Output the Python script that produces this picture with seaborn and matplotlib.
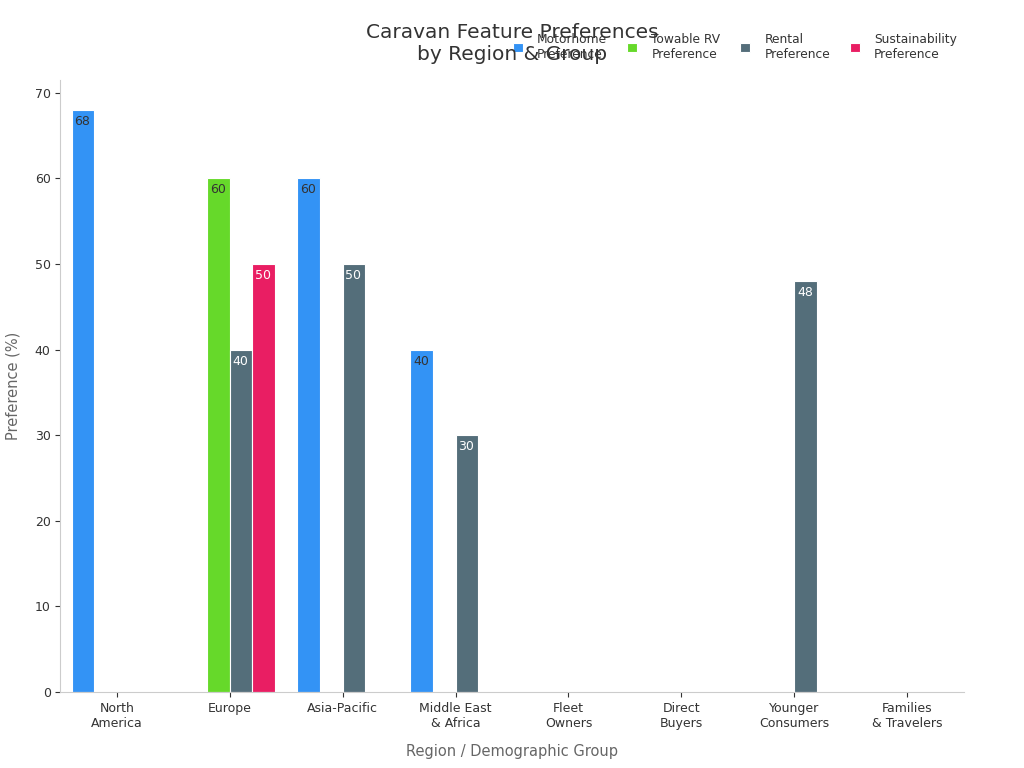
import numpy as np
import pandas as pd
import matplotlib
matplotlib.use("Agg")
import matplotlib.pyplot as plt
import seaborn as sns

# data
categories = ["North\nAmerica", "Europe", "Asia-Pacific", "Middle East\n& Africa",
              "Fleet\nOwners", "Direct\nBuyers", "Younger\nConsumers", "Families\n& Travelers"]
series = ["Motorhome\nPreference", "Towable RV\nPreference", "Rental\nPreference",
          "Sustainability\nPreference"]
motorhome = [68, np.nan, 60, 40, np.nan, np.nan, np.nan, np.nan]
towable = [np.nan, 60, np.nan, np.nan, np.nan, np.nan, np.nan, np.nan]
rental = [np.nan, 40, 50, 30, np.nan, np.nan, 48, np.nan]
sustain = [np.nan, 50, np.nan, np.nan, np.nan, np.nan, np.nan, np.nan]
colors = ["#3393F5", "#66D92A", "#546E7A", "#E91E63"]
label_colors = ["#333333", "#333333", "white", "white"]

rows = []
for s, vals in zip(series, [motorhome, towable, rental, sustain]):
    for c, v in zip(categories, vals):
        rows.append({"cat": c, "series": s, "value": v})
df = pd.DataFrame(rows)

fig = plt.figure(figsize=(10.24, 7.68), dpi=100)
ax = fig.add_axes([0.059, 0.099, 0.882, 0.797])
sns.barplot(data=df, x="cat", y="value", hue="series", order=categories,
            hue_order=series, palette=colors, saturation=1, width=0.8,
            edgecolor="white", linewidth=0.8, ax=ax)

for cont, lc in zip(ax.containers, label_colors):
    for bar in cont:
        h = bar.get_height()
        if np.isnan(h) or h == 0:
            continue
        ax.text(bar.get_x() + bar.get_width() * 0.12, h - 0.6,
                f"{int(h)}", ha="left", va="top", fontsize=9, color=lc)

ax.set_ylim(0, 71.5)
ax.set_xlim(-0.5, 7.5)
ax.set_yticks(range(0, 71, 10))
ax.set_xlabel("Region / Demographic Group", fontsize=10.5, color="#666666", labelpad=10)
ax.set_ylabel("Preference (%)", fontsize=10.5, color="#666666", labelpad=10)
ax.tick_params(labelsize=9, colors="#333333")
for sp in ["top", "right"]:
    ax.spines[sp].set_visible(False)
for sp in ["left", "bottom"]:
    ax.spines[sp].set_color("#cccccc")

fig.suptitle("Caravan Feature Preferences\nby Region & Group", x=0.5, y=0.97,
             fontsize=14.5, color="#333333")
leg = ax.legend(loc="upper right", bbox_to_anchor=(1.005, 1.095), ncol=4, frameon=False,
                fontsize=8.8, handlelength=0.8, handleheight=0.8, columnspacing=1.6,
                handletextpad=1.2)
for t in leg.get_texts():
    t.set_color("#333333")

fig.savefig("out.png", dpi=100)
